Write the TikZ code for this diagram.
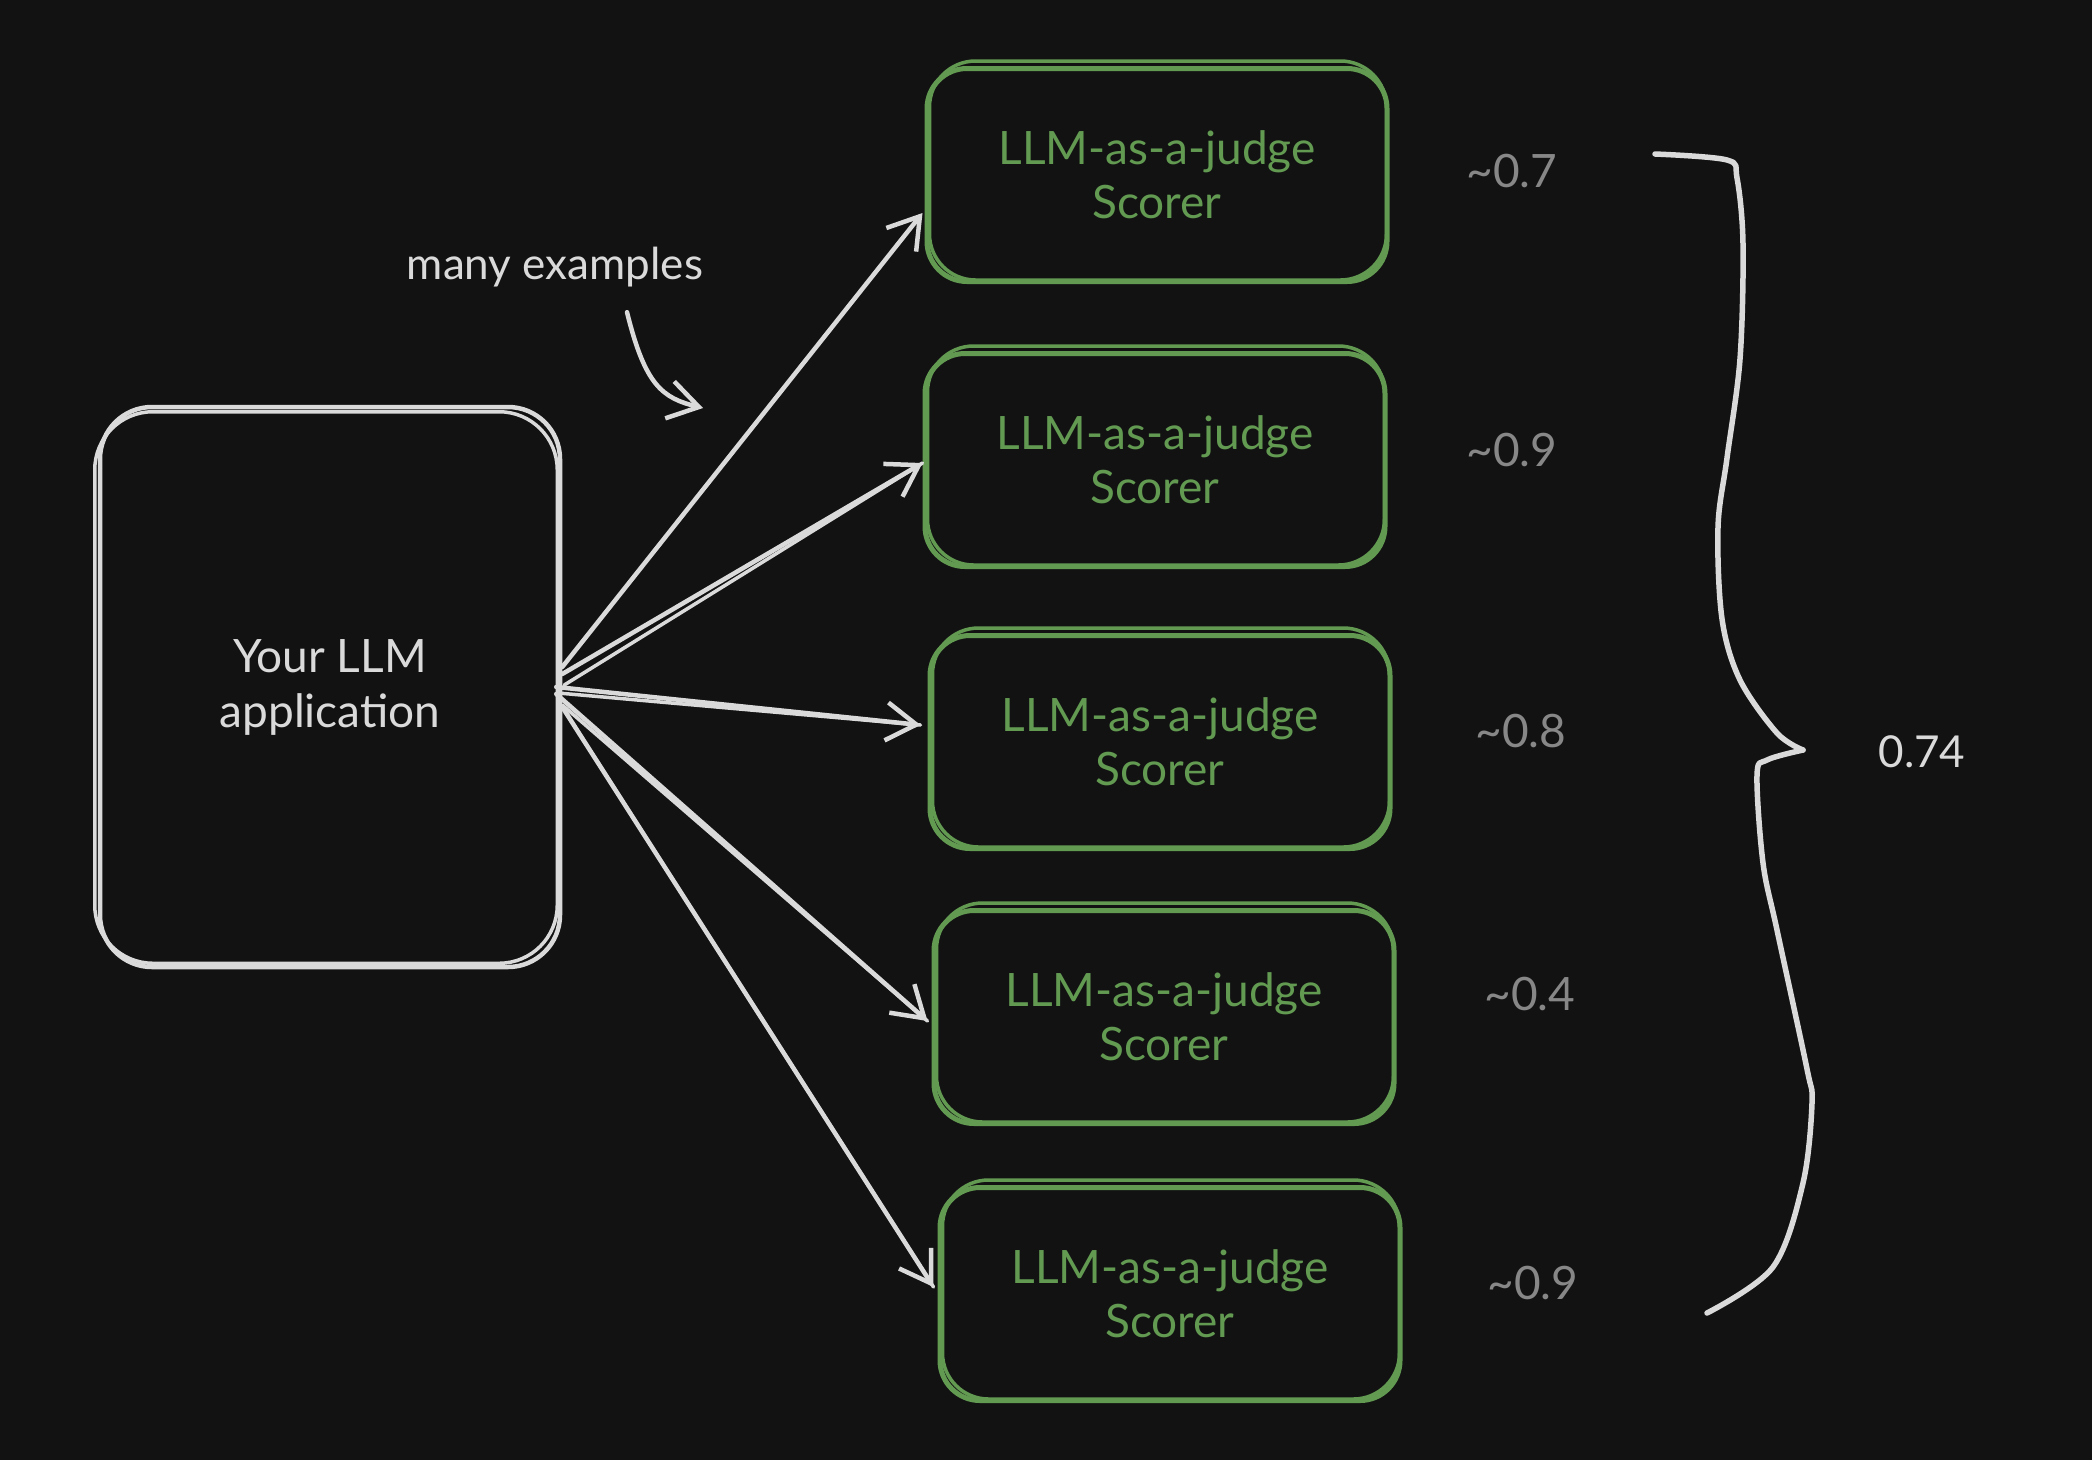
\documentclass[tikz,border=0pt]{standalone}
\usepackage{fontspec}
\setmainfont{Lato}
\usetikzlibrary{arrows.meta,calc}
\definecolor{bg}{HTML}{121212}
\definecolor{ink}{RGB}{218,218,218}
\definecolor{jgreen}{RGB}{98,154,82}
\definecolor{scoregray}{RGB}{135,135,135}
\tikzset{
  judge/.style={draw=jgreen, line width=5pt, rounded corners=40pt,
    minimum width=460pt, minimum height=213pt, text=jgreen,
    font=\fontsize{46}{54}\selectfont, align=center, inner sep=0pt},
  judgesketch/.style={draw=jgreen, line width=3.5pt, rounded corners=46pt},
  appbox/.style={draw=ink, line width=4.5pt, rounded corners=52pt,
    minimum width=460pt, minimum height=560pt, text=ink,
    font=\fontsize{46}{55}\selectfont, align=center, inner sep=0pt},
  appsketch/.style={draw=ink, line width=3.5pt, rounded corners=58pt},
  conn/.style={draw=ink, line width=4.5pt, line cap=round,
    -{Straight Barb[length=30pt,width=38pt,line width=4.5pt]}},
  connplain/.style={draw=ink, line width=3.5pt, line cap=round},
  score/.style={text=scoregray, font=\fontsize{46}{52}\selectfont, inner sep=0pt},
  note/.style={text=ink, font=\fontsize{44}{50}\selectfont, inner sep=0pt},
}
\begin{document}
\begin{tikzpicture}[x=1pt,y=-1pt]
\fill[bg] (0,0) rectangle (2092,1460);
\useasboundingbox (0,0) rectangle (2092,1460);

% application box
\node[appbox] (app) at (330,687) {Your LLM\\application};
\draw[appsketch] ($(app.south west)+(-3,-6)$) rectangle ($(app.north east)+(-5,7)$);

% judge boxes
\node[judge] (g1) at (1157,175) {LLM-as-a-judge\\Scorer};
\node[judge] (g2) at (1155,460) {LLM-as-a-judge\\Scorer};
\node[judge] (g3) at (1160,742) {LLM-as-a-judge\\Scorer};
\node[judge] (g4) at (1164,1017) {LLM-as-a-judge\\Scorer};
\node[judge] (g5) at (1170,1294) {LLM-as-a-judge\\Scorer};
\foreach \g in {g1,g2,g3,g4,g5}{
  \draw[judgesketch] ($(\g.south west)+(5,-4)$) rectangle ($(\g.north east)+(-3,-5)$);
}

% scores
\node[score] (s1) at (1512,171) {\textasciitilde0.7};
\node[score] (s2) at (1512,450) {\textasciitilde0.9};
\node[score] (s3) at (1521,731) {\textasciitilde0.8};
\node[score] (s4) at (1530,994) {\textasciitilde0.4};
\node[score] (s5) at (1533,1283) {\textasciitilde0.9};

% total
\node[note] (total) at (1922,752) {0.74};

% many examples label
\node[note] (many) at (555,267) {many examples};
\coordinate (manytip) at (703,408);
\draw[conn] ($(many.south)+(72,25)$) .. controls (645,385) and (662,398) .. (manytip);

% connectors
\draw[conn] ($(app.east)+(0,-20)$) -- ($(g1.west)+(-2,38)$);
\draw[conn] ($(app.east)+(0,-13)$) -- ($(g2.west)+(0,3)$);
\draw[connplain] ($(app.east)+(2,-2)$) -- ($(g2.west)+(0,3)$);
\draw[conn] ($(app.east)+(-6,0)$) -- ($(g3.west)+(-7,-17)$);
\draw[connplain] ($(app.east)+(-4,6)$) -- ($(g3.west)+(-7,-17)$);
\draw[conn] ($(app.east)+(-6,7)$) -- ($(g4.west)+(-4,4)$);
\draw[connplain] ($(app.east)+(0,18)$) -- ($(g4.west)+(-4,4)$);
\draw[conn] ($(app.east)+(0,20)$) -- ($(g5.west)+(-4,-7)$);
\draw[connplain] ($(app.east)+(4,26)$) -- ($(g5.west)+(-4,-7)$);

% brace
\draw[ink, line width=5.5pt, line cap=round, line join=round]
  plot[smooth, tension=0.55] coordinates {(1655,154) (1727,160) (1737,178) (1743,244) (1740,359) (1727,458) (1718,527) (1722,619) (1740,680) (1777,733) (1803,750)};
\draw[ink, line width=5.5pt, line cap=round, line join=round]
  plot[smooth, tension=0.55] coordinates {(1803,750) (1767,760) (1757,775) (1763,863) (1777,930) (1807,1069) (1812,1103) (1803,1183) (1773,1267) (1707,1313)};
\end{tikzpicture}
\end{document}
